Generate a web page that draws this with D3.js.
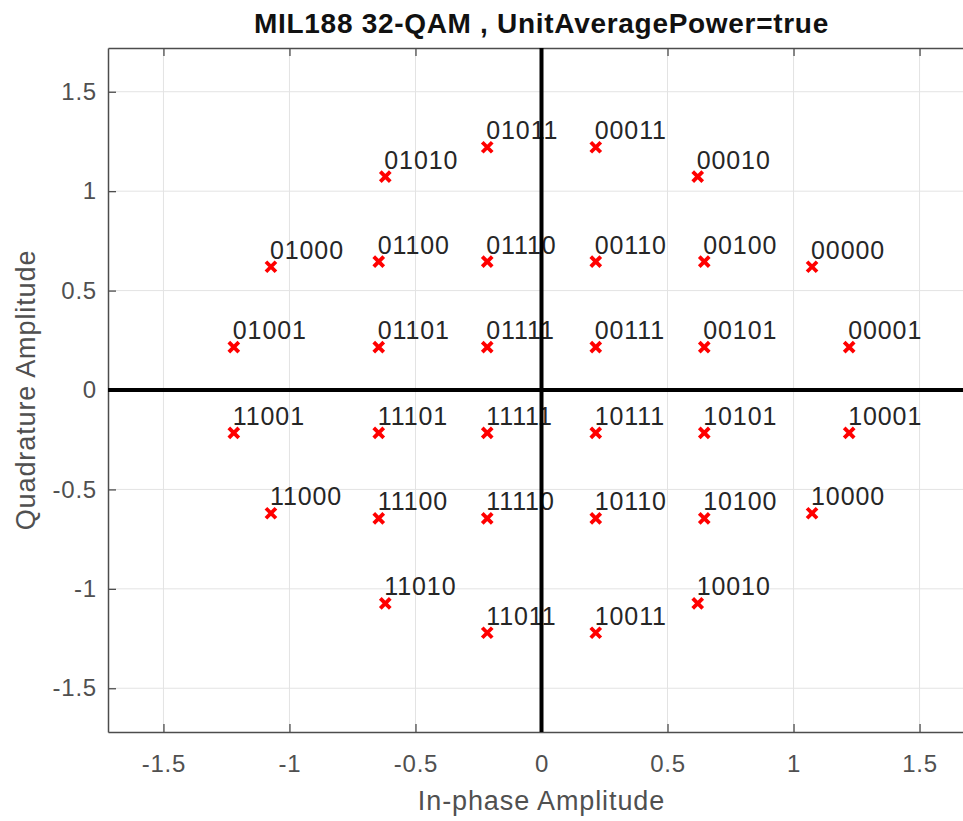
<!DOCTYPE html>
<html>
<head>
<meta charset="utf-8">
<script src="https://cdn.jsdelivr.net/npm/d3@7"></script>
<style>
  html, body { margin: 0; padding: 0; background: #fff; }
  svg { display: block; }
</style>
</head>
<body>
<svg id="chart" width="963" height="821"></svg>
<script>
// ---- data ----
const inPhase = [
  0.2153, -0.2153, 0.6198, -0.6198, 1.0735, -1.0735, 1.2208, -1.2208,
  -0.6458, -0.2153, 0.2153, 0.6458,
  -0.6458, -0.2153, 0.2153, 0.6458,
  -1.2208, -0.6458, -0.2153, 0.2153, 0.6458, 1.2208,
  -1.0735, -0.6458, -0.2153, 0.2153, 0.6458, 1.0735,
  -0.6198, 0.6198, -0.2153, 0.2153
];
const quadrature = [
  1.2208, 1.2208, 1.0735, 1.0735, 0.6198, 0.6198, 0.2153, 0.2153,
  0.6458, 0.6458, 0.6458, 0.6458,
  0.2153, 0.2153, 0.2153, 0.2153,
  -0.2153, -0.2153, -0.2153, -0.2153, -0.2153, -0.2153,
  -0.6198, -0.6458, -0.6458, -0.6458, -0.6458, -0.6198,
  -1.0735, -1.0735, -1.2208, -1.2208
];
const bitLabels = [
  "00011", "01011", "00010", "01010", "00000", "01000", "00001", "01001",
  "01100", "01110", "00110", "00100",
  "01101", "01111", "00111", "00101",
  "11001", "11101", "11111", "10111", "10101", "10001",
  "11000", "11100", "11110", "10110", "10100", "10000",
  "11010", "10010", "11011", "10011"
];
const xTicks = [-1.5, -1, -0.5, 0, 0.5, 1, 1.5];
const yTicks = [-1.5, -1, -0.5, 0, 0.5, 1, 1.5];
const axisLimits = [-1.72, 1.72];
const titleText = "MIL188 32-QAM , UnitAveragePower=true";
const xLabelText = "In-phase Amplitude";
const yLabelText = "Quadrature Amplitude";

// ---- layout ----
const pLeft = 108, pTop = 48, plotW = 867, plotH = 684;
const svg = d3.select("#chart");
svg.append("rect").attr("width", 963).attr("height", 821).attr("fill", "#fff");

const x = d3.scaleLinear().domain(axisLimits).range([pLeft, pLeft + plotW]);
const y = d3.scaleLinear().domain(axisLimits).range([pTop + plotH, pTop]);

const fmt = d => String(d);
const FONT = "'Liberation Sans', Arial, Helvetica, sans-serif";

// grid
const grid = svg.append("g").attr("stroke", "#e3e3e3").attr("stroke-width", 1);
grid.selectAll("line.gx").data(xTicks).join("line").attr("class", "gx")
  .attr("x1", d => x(d)).attr("x2", d => x(d))
  .attr("y1", pTop).attr("y2", pTop + plotH);
grid.selectAll("line.gy").data(yTicks).join("line").attr("class", "gy")
  .attr("x1", pLeft).attr("x2", pLeft + plotW)
  .attr("y1", d => y(d)).attr("y2", d => y(d));

// axes
const axColor = "#4d4d4d";
const gx = svg.append("g").attr("transform", `translate(0,${pTop + plotH})`)
  .call(d3.axisBottom(x).tickValues(xTicks).tickFormat(fmt).tickSizeInner(-8).tickSizeOuter(0).tickPadding(23));
const gxTop = svg.append("g").attr("transform", `translate(0,${pTop})`)
  .call(d3.axisTop(x).tickValues(xTicks).tickFormat("").tickSizeInner(-8).tickSizeOuter(0));
const gy = svg.append("g").attr("transform", `translate(${pLeft},0)`)
  .call(d3.axisLeft(y).tickValues(yTicks).tickFormat(fmt).tickSizeInner(-8).tickSizeOuter(0).tickPadding(11));
[gx, gxTop, gy].forEach(g => {
  g.select(".domain").attr("stroke", axColor).attr("stroke-width", 1.5);
  g.selectAll(".tick line").attr("stroke", axColor).attr("stroke-width", 1.3);
  g.selectAll(".tick text").attr("fill", "#505050")
    .style("font-family", FONT).style("font-size", "24px").style("letter-spacing", "0.8px");
});

// markers
const marker = "M-5,-5L5,5M-5,5L5,-5";
svg.append("g").selectAll("path").data(inPhase).join("path")
  .attr("d", marker)
  .attr("transform", (d, i) => `translate(${x(d)},${y(quadrature[i])})`)
  .attr("stroke", "#ff0000").attr("stroke-width", 3.8).attr("fill", "none");

// bit labels
svg.append("g").selectAll("text").data(bitLabels).join("text")
  .attr("x", (d, i) => x(inPhase[i]) - 1)
  .attr("y", (d, i) => y(quadrature[i]) - 8)
  .text(d => d)
  .attr("fill", "#262626")
  .style("font-family", FONT).style("font-size", "25px").style("letter-spacing", "0.9px");

// zero lines
svg.append("line")
  .attr("x1", x(0)).attr("x2", x(0)).attr("y1", pTop).attr("y2", pTop + plotH)
  .attr("stroke", "#000").attr("stroke-width", 4);
svg.append("line")
  .attr("x1", pLeft).attr("x2", pLeft + plotW).attr("y1", y(0)).attr("y2", y(0))
  .attr("stroke", "#000").attr("stroke-width", 4);

// title & axis labels
svg.append("text").attr("x", pLeft + plotW / 2).attr("y", 33)
  .attr("text-anchor", "middle").text(titleText)
  .attr("fill", "#111").style("font-family", FONT).style("font-weight", "bold")
  .style("font-size", "28px").style("letter-spacing", "0.7px");
svg.append("text").attr("x", pLeft + plotW / 2).attr("y", 810)
  .attr("text-anchor", "middle").text(xLabelText)
  .attr("fill", "#505050").style("font-family", FONT)
  .style("font-size", "27px").style("letter-spacing", "0.9px");
svg.append("text").attr("transform", `translate(35,${pTop + plotH / 2}) rotate(-90)`)
  .attr("text-anchor", "middle").text(yLabelText)
  .attr("fill", "#505050").style("font-family", FONT)
  .style("font-size", "27px").style("letter-spacing", "0.9px");
</script>
</body>
</html>
